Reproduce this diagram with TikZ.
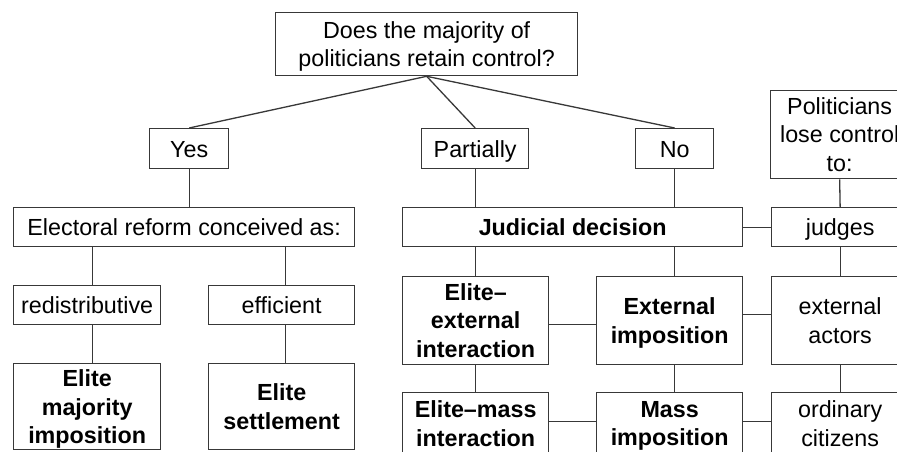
\documentclass[tikz,border=0pt]{standalone}
\usepackage{fontspec}
\setmainfont{Liberation Sans}
\begin{document}
\begin{tikzpicture}[x=1pt,y=-1pt,
  box/.style={draw=black!78, line width=1.3pt, rectangle, inner sep=0pt, align=center,
    anchor=north west, text=black, font=\fontsize{23.3}{28.5}\selectfont},
  bbox/.style={box, font=\fontsize{23.3}{28.5}\selectfont\bfseries},
  one/.style={text height=16.8pt, text depth=0pt},
  link/.style={draw=black!78, line width=1.3pt}]
\useasboundingbox (0,0) rectangle (897,452);
\clip (0,0) rectangle (897,452);
\fill[white] (0,0) rectangle (897,452);
\node[box, minimum width=302pt, minimum height=63pt] (top) at (275,12) {Does the majority of\\\smash{politicians retain control?}};
\node[box, one, minimum width=79pt, minimum height=40pt] (yes) at (149,128) {Yes};
\node[box, one, minimum width=107pt, minimum height=40pt] (partial) at (421,128) {Partially};
\node[box, one, minimum width=78pt, minimum height=40pt] (no) at (635,128) {No};
\node[box, minimum width=138pt, minimum height=88pt] (pol) at (770,90) {Politicians\\lose control\\to:};
\node[box, one, minimum width=341pt, minimum height=39pt] (elect) at (13,207) {Electoral reform conceived as:};
\node[bbox, one, minimum width=340pt, minimum height=39pt] (jud) at (402,207) {Judicial decision};
\node[box, one, minimum width=137pt, minimum height=39pt] (judges) at (771,207) {judges};
\node[box, one, minimum width=147pt, minimum height=39pt] (redis) at (13,285) {redistributive};
\node[box, one, minimum width=146pt, minimum height=39pt] (eff) at (208,285) {efficient};
\node[bbox, minimum width=147pt, minimum height=86pt] (emi) at (13,363) {Elite\\majority\\\smash{imposition}};
\node[bbox, minimum width=146pt, minimum height=86pt] (es) at (208,363) {Elite\\settlement};
\node[bbox, minimum width=146pt, minimum height=88pt] (elx) at (402,276) {Elite–\\external\\interaction};
\node[bbox, minimum width=146pt, minimum height=88pt] (ext) at (596,276) {External\\\smash{imposition}};
\node[box, minimum width=137pt, minimum height=88pt] (act) at (771,276) {external\\actors};
\node[bbox, minimum width=146pt, minimum height=62pt] (elm) at (402,392) {Elite–mass\\interaction};
\node[bbox, minimum width=146pt, minimum height=62pt] (mass) at (596,392) {Mass\\\smash{imposition}};
\node[box, minimum width=137pt, minimum height=62pt] (cit) at (771,392) {ordinary\\citizens};
% connectors
\draw[link] (top.south) -- (yes.north);
\draw[link] (top.south) -- (partial.north);
\draw[link] (top.south) -- (no.north);
\draw[link] (yes.south) -- (yes.south |- elect.north);
\draw[link] (partial.south) -- (partial.south |- jud.north);
\draw[link] (no.south) -- (no.south |- jud.north);
\draw[link] (pol.south) -- (judges.north);
\draw[link] (jud.east) -- (judges.west);
\draw[link] (redis.north) ++(5,0) coordinate (rn) -- (rn |- elect.south);
\draw[link] (eff.north) ++(4,0) coordinate (en) -- (en |- elect.south);
\draw[link] (redis.south) ++(5,0) coordinate (rs) -- (rs |- emi.north);
\draw[link] (eff.south) ++(4,0) coordinate (es2) -- (es2 |- es.north);
\draw[link] (jud.south -| partial.south) -- (elx.north -| partial.south);
\draw[link] (jud.south -| no.south) -- (ext.north -| no.south);
\draw[link] (judges.south) -- (act.north);
\draw[link] (elx.south -| partial.south) -- (elm.north -| partial.south);
\draw[link] (ext.south -| no.south) -- (mass.north -| no.south);
\draw[link] (act.south) -- (cit.north);
\draw[link] ([yshift=-4pt]elx.east) -- ([yshift=-4pt]elx.east -| ext.west);
\draw[link] ([yshift=6pt]ext.east) -- ([yshift=6pt]ext.east -| act.west);
\draw[link] ([yshift=2pt]elm.east) -- ([yshift=2pt]elm.east -| mass.west);
\draw[link] ([yshift=2pt]mass.east) -- ([yshift=2pt]mass.east -| cit.west);
\end{tikzpicture}
\end{document}
